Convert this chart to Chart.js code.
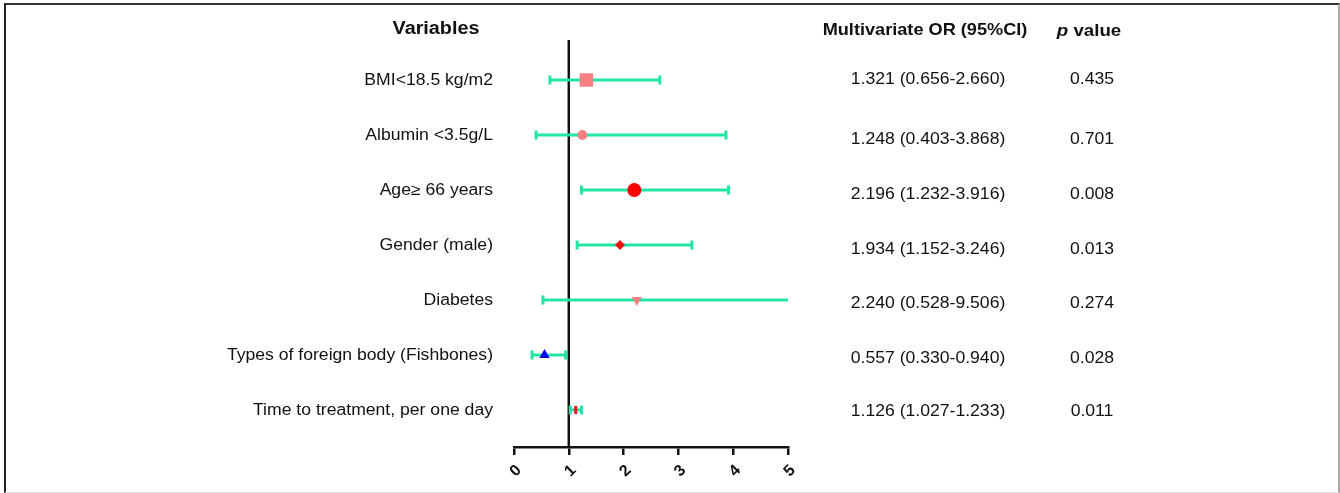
<!DOCTYPE html>
<html>
<head>
<meta charset="utf-8">
<script src="https://cdn.jsdelivr.net/npm/chart.js@4"></script>
<style>
  html, body { margin: 0; padding: 0; background: #fff; }
  #wrap { position: relative; width: 1340px; height: 493px; }
  #frame { position: absolute; left: 4px; top: 3px; width: 1332px; height: 487px;
           border-left: 2px solid #222; border-top: 2px solid #333;
           border-right: 2px solid #aaa; border-bottom: 1px solid #e4e4e4; pointer-events: none; }
  canvas { position: absolute; left: 0; top: 0; }
</style>
</head>
<body>
<div id="wrap">
  <canvas id="c" width="1340" height="493"></canvas>
  <div id="frame"></div>
</div>
<script>
// ---- data ----
const variables = [
  'BMI<18.5 kg/m2',
  'Albumin <3.5g/L',
  'Age\u2265 66 years',
  'Gender (male)',
  'Diabetes',
  'Types of foreign body (Fishbones)',
  'Time to treatment, per one day'
];
const orValues = [1.321, 1.248, 2.196, 1.934, 2.240, 0.557, 1.126];
const ciLower  = [0.656, 0.403, 1.232, 1.152, 0.528, 0.330, 1.027];
const ciUpper  = [2.660, 3.868, 3.916, 3.246, 9.506, 0.940, 1.233];
const pValues  = ['0.435', '0.701', '0.008', '0.013', '0.274', '0.028', '0.011'];
const xTicks   = [0, 1, 2, 3, 4, 5];

// ---- styles ----
const markerStyles = ['rect', 'circle', 'circle', 'rectRot', 'triangle', 'triangle', 'line'];
const markerColors = ['#f78282', '#f78282', '#ff0000', '#ee1111', '#f78282', '#0000ee', '#ee1111'];
const markerSizes  = [9.5, 5, 7, 5, 6, 6, 4];
const markerRot    = [0, 0, 0, 0, 180, 0, 90];
const rightDy      = [0, 5, 5, 5, 4, 4, 2];
const leftDy       = [1, 1, 1, 1, 1, 1, 1];
const ciColor = '#21e6a6';

const rowY = variables.map((_, i) => i + 1);
const Y_MIN = 1 - 40 / 55, Y_MAX = 7 + 37 / 55;

function fmt(v) { return v.toFixed(3); }

const datasets = [];
// reference line at OR = 1
datasets.push({
  type: 'line', data: [{x: 1, y: Y_MIN}, {x: 1, y: Y_MAX}],
  borderColor: '#111', borderWidth: 2.5, pointRadius: 0, order: 3, clip: false
});
// CI bars
variables.forEach((v, i) => {
  datasets.push({
    type: 'line',
    data: [{x: ciLower[i], y: rowY[i]}, {x: ciUpper[i], y: rowY[i]}],
    borderColor: ciColor, borderWidth: 3,
    pointStyle: 'line', pointRotation: 90, pointRadius: 4.5,
    pointBorderColor: ciColor, pointBorderWidth: 3,
    order: 2, clip: 0
  });
});
// point estimates
datasets.push({
  type: 'scatter',
  data: orValues.map((v, i) => ({x: v, y: rowY[i]})),
  pointStyle: markerStyles, pointRadius: markerSizes, pointRotation: markerRot,
  backgroundColor: markerColors, borderColor: markerColors,
  borderWidth: markerStyles.map(s => s === 'line' ? 3 : 0),
  order: 1, clip: false
});

function drawText(ctx, txt, x, y, font, align, sx) {
  ctx.save();
  ctx.font = font;
  ctx.fillStyle = '#111';
  ctx.textBaseline = 'middle';
  const w = ctx.measureText(txt).width * sx;
  let left = x;
  if (align === 'center') left = x - w / 2;
  else if (align === 'right') left = x - w;
  ctx.translate(left, y);
  ctx.scale(sx, 1);
  ctx.textAlign = 'left';
  ctx.fillText(txt, 0, 0);
  ctx.restore();
}

const FF = '"Liberation Sans", Arial, sans-serif';

const textPlugin = {
  id: 'forestText',
  afterDraw(chart) {
    const ctx = chart.ctx;
    const ys = chart.scales.y;
    const SX = 1.1;
    drawText(ctx, 'Variables', 436, 29, 'bold 18px ' + FF, 'center', SX);
    drawText(ctx, 'Multivariate OR (95%CI)', 925, 30, 'bold 16.5px ' + FF, 'center', SX);
    // p value header
    ctx.save();
    ctx.font = 'italic bold 17px ' + FF;
    const pw = ctx.measureText('p').width * SX;
    ctx.font = 'bold 17px ' + FF;
    const vw = ctx.measureText(' value').width * SX;
    ctx.restore();
    const px0 = 1089 - (pw + vw) / 2;
    drawText(ctx, 'p', px0, 31, 'italic bold 17px ' + FF, 'left', SX);
    drawText(ctx, ' value', px0 + pw, 31, 'bold 17px ' + FF, 'left', SX);

    variables.forEach((name, i) => {
      const y = ys.getPixelForValue(rowY[i]);
      drawText(ctx, name, 493, y + leftDy[i], '16px ' + FF, 'right', 1.1);
      const orTxt = fmt(orValues[i]) + ' (' + fmt(ciLower[i]) + '-' + fmt(ciUpper[i]) + ')';
      drawText(ctx, orTxt, 928, y + rightDy[i], '16px ' + FF, 'center', SX);
      drawText(ctx, pValues[i], 1092, y + rightDy[i], '16px ' + FF, 'center', SX);
    });
  }
};

new Chart(document.getElementById('c'), {
  data: { datasets },
  options: {
    responsive: false,
    animation: false,
    events: [],
    layout: { padding: { left: 514, right: 552, top: 40, bottom: 0 } },
    plugins: { legend: { display: false }, tooltip: { enabled: false } },
    scales: {
      x: {
        type: 'linear', min: 0, max: 5,
        afterBuildTicks(scale) { scale.ticks = xTicks.map(v => ({value: v})); },
        afterFit(scale) { scale.height = 46; },
        border: { display: true, color: '#111', width: 2.5 },
        grid: { display: true, drawOnChartArea: false, drawTicks: true, tickLength: 8, color: '#111', lineWidth: 2.5 },
        ticks: {
          minRotation: 45, maxRotation: 45, padding: 6, labelOffset: 5,
          color: '#111', font: { family: FF, size: 16, weight: 'bold' }
        }
      },
      y: {
        type: 'linear', reverse: true, min: Y_MIN, max: Y_MAX, display: false
      }
    }
  },
  plugins: [textPlugin]
});
</script>
</body>
</html>
